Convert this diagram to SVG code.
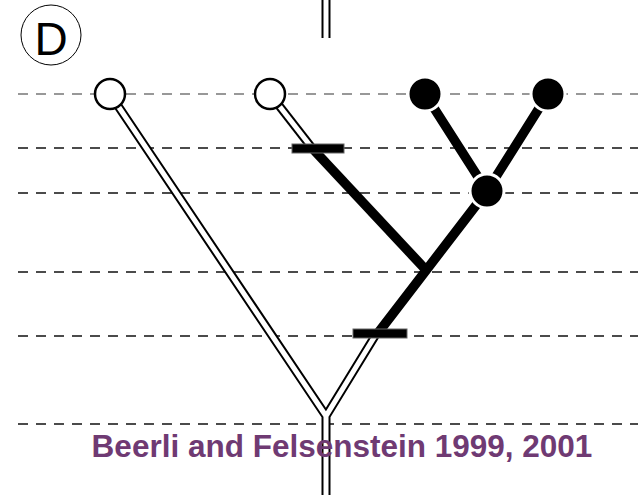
<svg xmlns="http://www.w3.org/2000/svg" width="638" height="495" viewBox="0 0 638 495">
<style>
.grid{stroke:#111;stroke-width:1.3;stroke-dasharray:10 8;fill:none}
.grid0{stroke:#777;stroke-width:1.5;stroke-dasharray:10 8;fill:none}
.dblo{stroke:#000;stroke-width:9;fill:none;stroke-linejoin:miter}
.dbli{stroke:#fff;stroke-width:5;fill:none;stroke-linejoin:miter}
.thick{stroke:#000;stroke-width:9.5;fill:none}
.open{fill:#fff;stroke:#000;stroke-width:2.5}
.filled{fill:#000;stroke:#fff;stroke-width:3}
.bar{fill:#000;stroke:#666;stroke-width:1}
</style>
<rect width="638" height="495" fill="#fff"/>
<g id="grid">
<line class="grid0" x1="18" y1="94" x2="638" y2="94"/>
<line class="grid" x1="18" y1="148" x2="638" y2="148"/>
<line class="grid" x1="18" y1="193" x2="638" y2="193"/>
<line class="grid" x1="18" y1="272" x2="638" y2="272"/>
<line class="grid" x1="18" y1="336" x2="638" y2="336"/>
<line class="grid" x1="18" y1="424" x2="638" y2="424"/>
</g>
<g id="connectors">
<line class="dblo" x1="326" y1="0" x2="326" y2="38"/>
<line class="dbli" x1="326" y1="-2" x2="326" y2="40"/>
<path class="dblo" d="M110,94 L326,416 L375,336 M326,416 L326,495"/>
<path class="dbli" d="M110,94 L326,416 L375,336 M326,416 L326,497"/>
<path class="dblo" d="M270,94 L312,148"/>
<path class="dbli" d="M270,94 L312,148"/>
<path class="thick" d="M312,148 L426,270"/>
<path class="thick" d="M425,94 L487,191 L548,94 M487,191 L378,333"/>
</g>
<g id="bar1"><rect class="bar" x="292" y="144" width="52" height="9"/></g>
<g id="bar2"><rect class="bar" x="353" y="329" width="54" height="9"/></g>
<g id="tip1"><circle class="open" cx="110" cy="94" r="15"/></g>
<g id="tip2"><circle class="open" cx="270" cy="94" r="15"/></g>
<g id="tip3"><circle class="filled" cx="425" cy="94" r="17"/></g>
<g id="tip4"><circle class="filled" cx="548" cy="94" r="17"/></g>
<g id="node5"><circle class="filled" cx="487" cy="191" r="17"/></g>
<g id="label-D">
<circle cx="51" cy="35" r="30" fill="#fff" stroke="#000" stroke-width="1"/>
<text x="51" y="55" font-family="Liberation Sans, Arial, sans-serif" font-size="46" text-anchor="middle">D</text>
</g>
<g id="caption">
<text x="342" y="457" font-family="Liberation Sans, Arial, sans-serif" font-size="31.5" font-weight="bold" fill="#6f3a73" text-anchor="middle">Beerli and Felsenstein 1999, 2001</text>
</g>
</svg>
